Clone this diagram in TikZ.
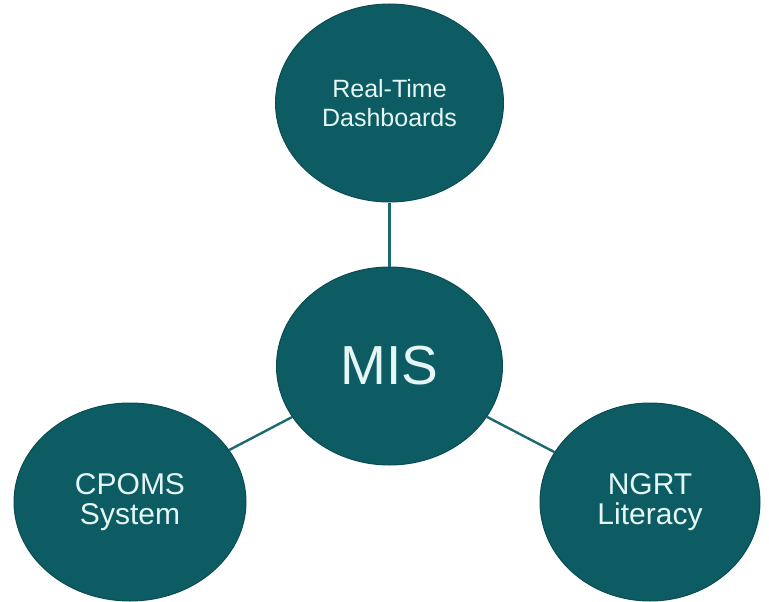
\documentclass[tikz,border=0pt]{standalone}
\usepackage{fontspec}
\setmainfont{Liberation Sans}
\usetikzlibrary{shapes.geometric}
\definecolor{tealfill}{HTML}{0E5C63}
\definecolor{tealedge}{HTML}{0A4C52}
\definecolor{tealline}{HTML}{1B6A70}
\definecolor{textlight}{HTML}{E4F7F5}
\tikzset{
  bubble/.style={ellipse, fill=tealfill, draw=tealedge, line width=1pt, inner sep=0pt,
    text=textlight, align=center},
  link/.style={draw=tealline, line width=2.4pt}
}
\begin{document}
\begin{tikzpicture}[x=1pt,y=-1pt]
\useasboundingbox (0,0) rectangle (769,602);
\node[bubble, minimum width=228pt, minimum height=198pt,
  font=\fontsize{25}{29}\selectfont] (top) at (389.5,103) {Real-Time\\Dashboards};
\node[bubble, minimum width=226pt, minimum height=198pt,
  font=\fontsize{55}{60}\selectfont] (mis) at (389.5,366) {MIS};
\node[bubble, minimum width=232pt, minimum height=198pt,
  font=\fontsize{30}{30}\selectfont] (cpoms) at (130,502) {CPOMS\\System};
\node[bubble, minimum width=220pt, minimum height=198pt,
  font=\fontsize{30}{30}\selectfont] (ngrt) at (650,502) {NGRT\\Literacy};
\draw[link] (top) -- (mis);
\draw[link] (mis) -- (cpoms);
\draw[link] (mis) -- (ngrt);
\end{tikzpicture}
\end{document}
